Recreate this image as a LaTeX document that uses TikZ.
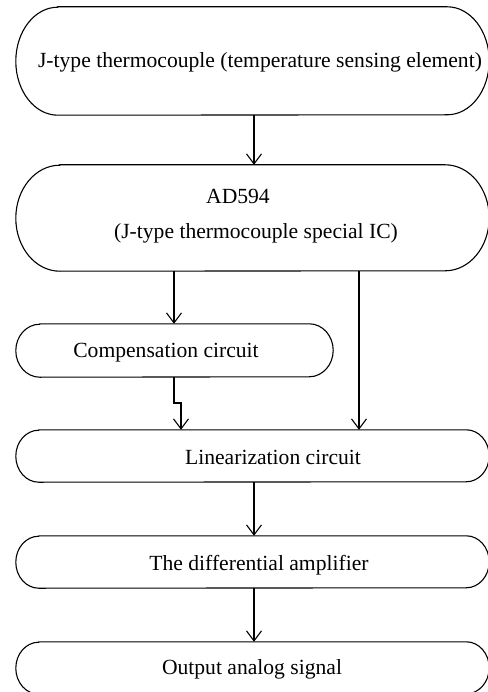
\documentclass[tikz,border=0pt]{standalone}
\usepackage{fontspec}
\setmainfont{Liberation Serif}
\usetikzlibrary{arrows.meta}
% outline with half-elliptic ends round a node: #1 node, #2 end radius, #3 half height
\newcommand\pillframe[3]{%
  \draw[frame] ([xshift=#2]#1.north west) -- ([xshift=-#2]#1.north east)
    arc[start angle=90, end angle=-90, x radius=#2, y radius=#3]
    -- ([xshift=#2]#1.south west)
    arc[start angle=270, end angle=90, x radius=#2, y radius=#3] -- cycle;}
\begin{document}
\begin{tikzpicture}[x=1pt,y=-1pt,
  pill/.style={rectangle, inner sep=0pt},
  frame/.style={draw=black, line width=1.1pt},
  txt/.style={font=\fontsize{21.6}{25}\selectfont, inner sep=0pt, anchor=base},
  flow/.style={draw=black, line width=1.1pt, -{Straight Barb[length=10pt,width=15pt,line width=1.1pt]}}]
  \useasboundingbox (0,0) rectangle (487,692);

  % blocks of the signal chain
  \node[pill, minimum width=473pt, minimum height=108pt] (tc)   at (252.5,61) {};
  \node[pill, minimum width=473pt, minimum height=106pt] (ic)   at (252.5,218) {};
  \node[pill, minimum width=317pt, minimum height=53pt]  (comp) at (174.5,350.5) {};
  \node[pill, minimum width=473pt, minimum height=52pt]  (lin)  at (252.5,456) {};
  \node[pill, minimum width=473pt, minimum height=52pt]  (amp)  at (252.5,562) {};
  \node[pill, minimum width=473pt, minimum height=52pt]  (out)  at (252.5,668) {};
  \pillframe{tc}{42pt}{54pt}
  \pillframe{ic}{44pt}{53pt}
  \pillframe{comp}{24pt}{26.5pt}
  \pillframe{lin}{23pt}{26pt}
  \pillframe{amp}{23pt}{26pt}
  \pillframe{out}{23pt}{26pt}

  % block captions
  \node[txt] (tcT)   at (260,68)  {J-type thermocouple (temperature sensing element)};
  \node[txt] (icT1)  at (238,204) {AD594};
  \node[txt] (icT2)  at (256,239) {(J-type thermocouple special IC)};
  \node[txt] (compT) at (166,357) {Compensation circuit};
  \node[txt] (linT)  at (273,464) {Linearization circuit};
  \node[txt] (ampT)  at (259,570) {The differential amplifier};
  \node[txt] (outT)  at (252,674) {Output analog signal};

  % connectors
  \draw[flow] (tc.south -| 254,0) -- (ic.north -| 254,0);
  \draw[flow] (ic.south -| 174,0) -- (comp.north -| 174,0);
  \draw[flow] (ic.south -| 359,0) -- (lin.north -| 359,0);
  \coordinate (jogA) at (174,403);
  \coordinate (jogB) at (181,403);
  \draw[flow] (comp.south -| jogA) -- (jogA) -- (jogB) -- (lin.north -| jogB);
  \draw[flow] (lin.south -| 254,0) -- (amp.north -| 254,0);
  \draw[flow] (amp.south -| 254,0) -- (out.north -| 254,0);
\end{tikzpicture}
\end{document}
